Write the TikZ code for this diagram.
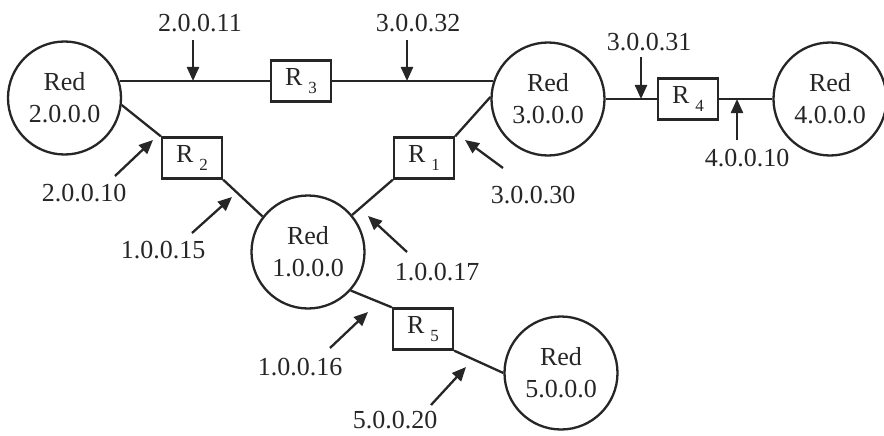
\documentclass[tikz,border=0pt]{standalone}
\usepackage{fontspec}
\setmainfont{Liberation Serif}
\usetikzlibrary{arrows.meta}
\definecolor{ink}{RGB}{38,38,38}
% router label: R with a lowered, smaller index
\newcommand\routerlabel[1]{R\hspace{6pt}\raisebox{-8pt}{\fontsize{17}{17}\selectfont #1}}
\begin{document}
\begin{tikzpicture}[x=1pt,y=-1pt,
  net/.style={circle,draw=ink,text=ink,line width=2.3pt,minimum size=113pt,inner sep=0pt,
              align=center,font=\fontsize{26}{32}\selectfont},
  router/.style={rectangle,draw=ink,text=ink,line width=2.3pt,minimum width=60pt,
                 minimum height=41pt,inner sep=0pt,font=\fontsize{26}{26}\selectfont},
  link/.style={draw=ink,line width=2.3pt},
  addr/.style={text=ink,inner sep=0pt,font=\fontsize{26}{26}\selectfont},
  ptr/.style={draw=ink,line width=2.3pt,-{Triangle[length=14pt,width=12pt]}}]

\fill[white] (0,0) rectangle (884,436);
\useasboundingbox (0,0) rectangle (884,436);

% networks
\node[net] (net2) at (64.5,98) {Red\\2.0.0.0};
\node[net] (net3) at (548,99) {Red\\3.0.0.0};
\node[net] (net4) at (830,99) {Red\\4.0.0.0};
\node[net] (net1) at (308,252) {Red\\1.0.0.0};
\node[net] (net5) at (561,373) {Red\\5.0.0.0};

% routers
\node[router] (r3) at (301,81) {\routerlabel{3}};
\node[router] (r4) at (688,99) {\routerlabel{4}};
\node[router] (r2) at (192,158) {\routerlabel{2}};
\node[router] (r1) at (424,158) {\routerlabel{1}};
\node[router] (r5) at (423,329) {\routerlabel{5}};

% links
\draw[link] (net2.17 |- r3.west) -- (r3.west);
\draw[link] (r3.east) -- (net3.163 |- r3.east);
\draw[link] (net3) -- (r4) -- (net4);
\draw[link] (net2.-7) -- (r2.north west);
\draw[link] (r2.south east) -- (net1.142);
\draw[link] (net1.40) -- (r1.south west);
\draw[link] (r1.north east) -- (net3.178);
\draw[link] (net1.-42) -- (r5.north west);
\draw[link] (r5.south east) -- (net5.west);

% interface addresses
\node[addr] (a211) at (200,23) {2.0.0.11};
\node[addr] (a332) at (418,23) {3.0.0.32};
\node[addr] (a331) at (649,42) {3.0.0.31};
\node[addr] (a410) at (747,158) {4.0.0.10};
\node[addr] (a330) at (533,195) {3.0.0.30};
\node[addr] (a210) at (84,193) {2.0.0.10};
\node[addr] (a115) at (163,250) {1.0.0.15};
\node[addr] (a117) at (437,272) {1.0.0.17};
\node[addr] (a116) at (300,367) {1.0.0.16};
\node[addr] (a520) at (395,420) {5.0.0.20};

% pointer ends
\coordinate (p211a) at (193,40);  \coordinate (p211b) at (193,81);
\coordinate (p332a) at (407,40);  \coordinate (p332b) at (407,81);
\coordinate (p331a) at (641,57);  \coordinate (p331b) at (641,99);
\coordinate (p410a) at (737,140); \coordinate (p410b) at (737,99);
\coordinate (p330a) at (503,168); \coordinate (p330b) at (465,140);
\coordinate (p210a) at (115,176); \coordinate (p210b) at (153,140);
\coordinate (p115a) at (192,233); \coordinate (p115b) at (232,197);
\coordinate (p117a) at (407,252); \coordinate (p117b) at (368,216);
\coordinate (p116a) at (330,348); \coordinate (p116b) at (368,312);
\coordinate (p520a) at (431,405); \coordinate (p520b) at (466,367);

\foreach \p in {211,332,331,410,330,210,115,117,116,520}
  \draw[ptr] (p\p a) -- (p\p b);
\end{tikzpicture}
\end{document}
